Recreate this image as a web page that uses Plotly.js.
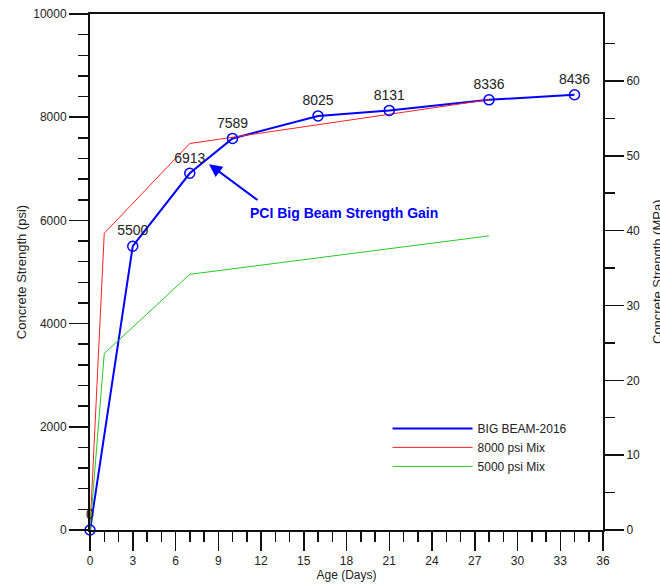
<!DOCTYPE html>
<html>
<head>
<meta charset="utf-8">
<script src="https://cdn.plot.ly/plotly-3.0.1.min.js"></script>
<style>html,body{margin:0;padding:0;background:#fff;}#chart{width:660px;height:584px;}</style>
</head>
<body>
<div id="chart"></div>
<script>
// Data
var seriesNames = ["BIG BEAM-2016", "8000 psi Mix", "5000 psi Mix"];
var bigBeamDays = [0, 3, 7, 10, 16, 21, 28, 34];
var bigBeamPsi = [0, 5500, 6913, 7589, 8025, 8131, 8336, 8436];
var mix8000Days = [0, 1, 7, 28];
var mix8000Psi = [0, 5750, 7490, 8340];
var mix5000Days = [0, 1, 7, 28];
var mix5000Psi = [0, 3420, 4955, 5700];
var annotationText = "PCI Big Beam Strength Gain";
var rightAxisTitle = "Concrete Strength (MPa)";
var arrowTargetDay = 8.35;
var arrowTargetPsi = 7090;
var PSI_PER_MPA = 145.038;

var font = "Arial, 'Liberation Sans', sans-serif";

var traces = [
  {x: bigBeamDays, y: bigBeamPsi, mode: "lines", name: seriesNames[0],
   line: {color: "#0000ff", width: 2}},
  {x: mix8000Days, y: mix8000Psi, mode: "lines", name: seriesNames[1],
   line: {color: "#ff2020", width: 1}},
  {x: mix5000Days, y: mix5000Psi, mode: "lines", name: seriesNames[2],
   line: {color: "#22cc22", width: 1}},
  {x: bigBeamDays, y: bigBeamPsi, mode: "markers+text", showlegend: false,
   text: bigBeamPsi.map(String), textposition: "top center",
   textfont: {family: font, size: 14, color: "#222"},
   marker: {symbol: "circle-open", size: 10, color: "#0000ff", line: {width: 1.5, color: "#0000ff"}},
   cliponaxis: false},
  {x: [0, 36], y: [0, 10000 / PSI_PER_MPA], yaxis: "y2", mode: "none", showlegend: false, hoverinfo: "skip"}
];

var layout = {
  width: 660, height: 584,
  margin: {l: 90, r: 57, t: 14, b: 54},
  paper_bgcolor: "#fff", plot_bgcolor: "#fff",
  font: {family: font, size: 12, color: "#222"},
  showlegend: true,
  legend: {x: 0.58, y: 0.225, xanchor: "left", yanchor: "top", bgcolor: "rgba(0,0,0,0)",
           font: {family: font, size: 12, color: "#222"}, itemwidth: 80, tracegroupgap: 0},
  xaxis: {range: [0, 36], dtick: 3, tick0: 0, ticks: "outside", ticklen: 19, tickwidth: 1.5,
          tickcolor: "#111", showline: true, linecolor: "#111", linewidth: 2, mirror: true,
          showgrid: false, zeroline: false, tickfont: {size: 12},
          minor: {dtick: 1, tick0: 0, ticks: "outside", ticklen: 10, tickwidth: 1.5, tickcolor: "#111", showgrid: false},
          title: {text: "Age (Days)", font: {size: 12}, standoff: 2}, automargin: false},
  yaxis: {range: [0, 10000], dtick: 2000, tick0: 0, tickformat: "d", ticks: "outside", ticklen: 19, tickwidth: 1.5,
          tickcolor: "#111", showline: true, linecolor: "#111", linewidth: 2,
          showgrid: false, zeroline: false, tickfont: {size: 12},
          minor: {dtick: 400, tick0: 0, ticks: "outside", ticklen: 10, tickwidth: 1.5, tickcolor: "#111", showgrid: false},
          title: {text: "Concrete Strength (psi)", font: {size: 13}, standoff: 4}, automargin: false},
  yaxis2: {overlaying: "y", side: "right", range: [0, 10000 / PSI_PER_MPA], dtick: 10, tick0: 0,
           ticks: "outside", ticklen: 19, tickwidth: 1.5, tickcolor: "#111",
           showline: true, linecolor: "#111", linewidth: 2, showgrid: false, zeroline: false,
           tickfont: {size: 12},
           minor: {dtick: 5, tick0: 0, ticks: "outside", ticklen: 10, tickwidth: 1.5, tickcolor: "#111", showgrid: false},
           automargin: false},
  annotations: [
    {x: 0.5, xref: "paper", y: 0.614, yref: "paper", xanchor: "center", yanchor: "middle",
     text: "<b>" + annotationText + "</b>", showarrow: false,
     font: {family: font, size: 14, color: "#0000ff"}, xshift: -3},
    {x: arrowTargetDay, y: arrowTargetPsi, xref: "x", yref: "y", text: "", showarrow: true,
     ax: 50, ay: 37, arrowhead: 2, arrowsize: 1.3, arrowwidth: 2, arrowcolor: "#0000ff", standoff: 0},
    {x: 1.0, xref: "paper", y: 0.5, yref: "paper", xanchor: "center", yanchor: "middle",
     xshift: 54, textangle: -90, text: rightAxisTitle, showarrow: false,
     font: {family: font, size: 13, color: "#222"}}
  ]
};

Plotly.newPlot("chart", traces, layout, {displayModeBar: false, staticPlot: true});
</script>
</body>
</html>
